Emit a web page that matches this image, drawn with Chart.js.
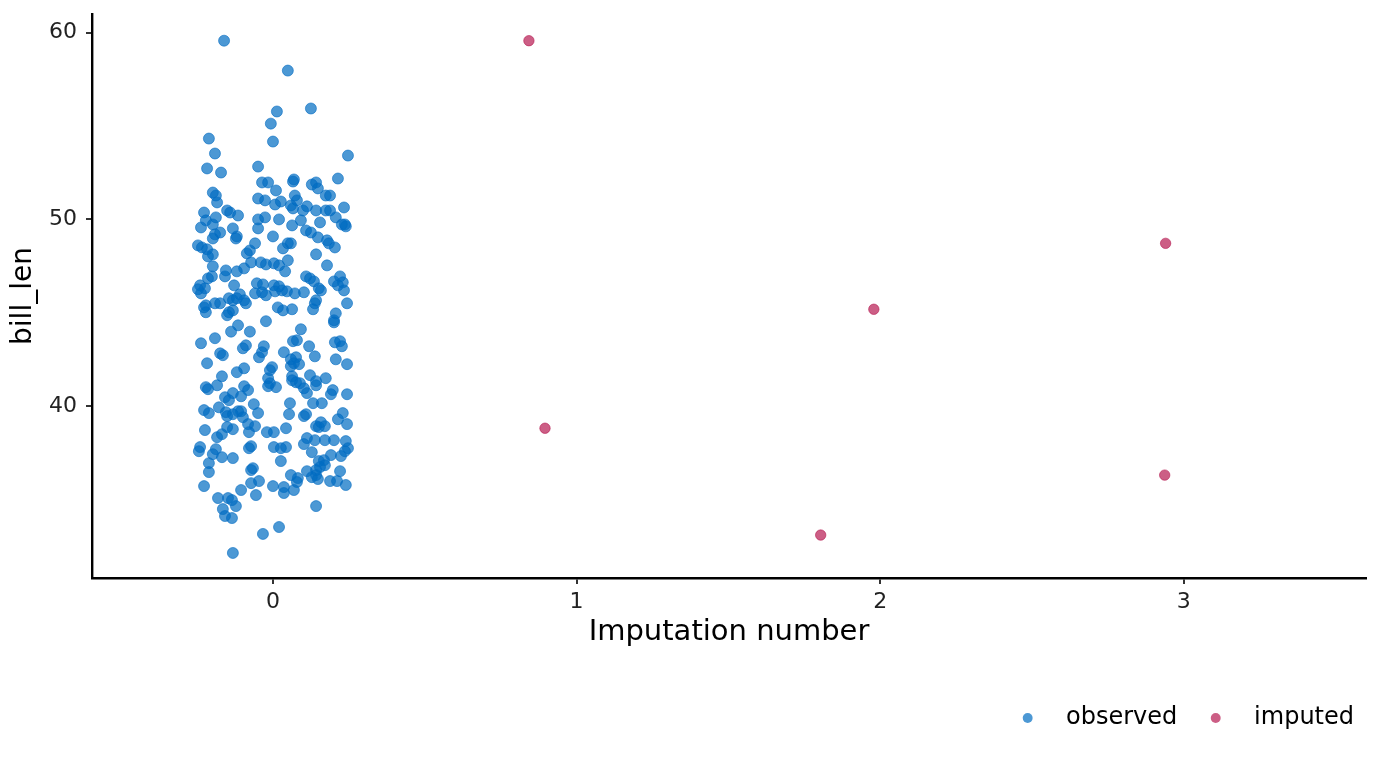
<!DOCTYPE html>
<html>
<head>
<meta charset="utf-8">
<script src="https://cdn.jsdelivr.net/npm/chart.js"></script>
<style>
  body { margin: 0; background: #fff; }
  #wrap { width: 1382px; height: 768px; position: relative; }
</style>
</head>
<body>
<div id="wrap"><canvas id="chart"></canvas></div>
<script>
// observed bill_len values, each with its horizontal jitter around imputation 0
const obsJitter = [
  -0.161, 0.049, 0.125, 0.013, -0.007, 0.000, -0.211, -0.191, 0.247, -0.217,
  -0.171, -0.049, 0.069, 0.066, 0.214, -0.036, -0.016, 0.142, 0.128, 0.148,
  0.010, -0.198, -0.188, 0.174, 0.188, -0.049, 0.072, 0.079, -0.184, -0.026,
  0.026, 0.007, 0.059, 0.112, 0.066, 0.099, -0.227, -0.151, -0.141, 0.142,
  0.188, 0.174, 0.234, -0.115, -0.188, -0.026, -0.049, 0.207, 0.020, -0.221,
  0.092, 0.155, -0.198, 0.227, 0.240, 0.237, 0.063, 0.109, 0.125, -0.132,
  -0.174, -0.049, -0.237, -0.191, -0.198, -0.119, -0.122, 0.000, 0.148, 0.178,
  -0.059, 0.049, 0.059, 0.184, -0.247, 0.204, -0.217, -0.076, -0.234, -0.198,
  -0.086, 0.033, 0.142, -0.214, -0.072, -0.040, -0.023, 0.003, 0.049, 0.020,
  -0.198, -0.095, 0.178, 0.040, -0.155, -0.119, -0.214, -0.201, -0.158, 0.109,
  0.122, 0.221, 0.135, 0.201, 0.230, 0.214, 0.234, -0.240, -0.224, -0.053,
  -0.033, -0.059, -0.036, -0.128, 0.003, 0.020, 0.030, 0.046, 0.072, 0.102,
  0.151, 0.158, 0.007, -0.023, -0.247, -0.237, -0.109, -0.191, -0.174, -0.145,
  -0.119, -0.095, -0.132, -0.221, -0.227, -0.089, 0.016, 0.033, 0.063, 0.142,
  0.138, 0.244, 0.132, -0.145, -0.132, -0.151, 0.207, 0.201, 0.201, -0.221,
  -0.023, -0.115, 0.092, -0.138, -0.076, -0.237, 0.066, 0.079, 0.119, -0.030,
  -0.089, -0.191, 0.204, 0.221, 0.227, -0.099, -0.165, -0.036, 0.036, -0.046,
  0.076, 0.138, -0.174, -0.217, 0.069, 0.059, 0.059, 0.086, 0.207, 0.244,
  -0.095, -0.119, -0.168, 0.063, 0.122, 0.174, -0.016, -0.010, -0.003, 0.063,
  -0.010, 0.010, -0.016, 0.076, 0.089, -0.221, -0.214, -0.184, -0.095, -0.082,
  -0.132, 0.102, 0.112, 0.142, 0.142, 0.197, 0.191, 0.244, 0.056, 0.132,
  0.161, -0.105, -0.158, -0.145, -0.178, -0.063, -0.049, -0.115, -0.105, -0.132,
  -0.211, -0.155, -0.099, -0.227, -0.151, 0.109, 0.102, 0.053, 0.230, 0.214,
  0.158, 0.151, 0.171, 0.142, 0.244, -0.151, -0.132, -0.224, -0.079, -0.059,
  -0.020, 0.003, 0.043, -0.082, -0.184, -0.168, 0.112, 0.138, 0.171, 0.201,
  0.240, 0.102, 0.003, 0.026, 0.043, -0.079, -0.072, -0.240, -0.188, -0.244,
  -0.198, 0.247, 0.237, 0.128, 0.191, 0.224, -0.168, -0.132, 0.168, 0.151,
  0.026, -0.211, -0.066, -0.072, 0.171, 0.155, 0.142, 0.221, 0.112, 0.142,
  0.128, 0.148, 0.059, 0.082, -0.211, -0.046, -0.072, 0.079, 0.188, 0.211,
  0.240, -0.227, 0.000, 0.036, 0.069, 0.036, -0.105, -0.056, -0.181, -0.148,
  -0.135, -0.165, -0.122, -0.158, -0.135, 0.142, 0.020, -0.033, -0.132
];
const obsBillLen = [
  59.57, 57.97, 55.94, 55.78, 55.13, 54.17, 54.33, 53.53, 53.42, 52.73,
  52.51, 52.83, 52.14, 52.03, 52.19, 51.98, 51.98, 51.98, 51.87, 51.66,
  51.55, 51.44, 51.28, 51.28, 51.28, 51.12, 51.28, 51.02, 50.91, 51.02,
  50.96, 50.80, 50.75, 50.70, 50.59, 50.48, 50.37, 50.48, 50.37, 50.48,
  50.48, 50.48, 50.64, 50.21, 50.11, 50.11, 50.00, 50.11, 50.00, 49.95,
  49.95, 49.84, 49.73, 49.73, 49.63, 49.73, 49.68, 49.41, 49.30, 49.52,
  49.30, 49.52, 49.57, 49.20, 48.98, 49.09, 48.98, 49.09, 49.04, 48.88,
  48.72, 48.72, 48.72, 48.72, 48.61, 48.50, 48.40, 48.34, 48.50, 48.13,
  48.18, 48.45, 48.13, 48.02, 47.70, 47.70, 47.59, 47.65, 47.81, 47.54,
  47.49, 47.38, 47.54, 47.22, 47.27, 47.22, 46.84, 46.95, 46.95, 46.95,
  46.84, 46.95, 46.68, 46.68, 46.63, 46.47, 46.20, 46.47, 46.31, 46.58,
  46.52, 46.04, 46.10, 46.47, 46.47, 46.42, 46.20, 46.15, 46.04, 46.10,
  46.31, 46.20, 46.15, 45.94, 46.26, 46.04, 45.99, 45.51, 45.51, 45.78,
  45.78, 45.67, 45.67, 45.40, 45.29, 45.51, 45.29, 45.13, 45.19, 45.67,
  45.51, 45.51, 45.19, 45.03, 45.13, 44.87, 44.97, 44.60, 44.49, 45.03,
  44.55, 44.33, 44.12, 43.99, 43.99, 43.37, 43.48, 43.53, 43.21, 43.21,
  43.26, 43.64, 43.42, 43.48, 43.21, 43.10, 42.73, 42.89, 42.89, 42.62,
  42.62, 42.67, 42.83, 42.30, 42.30, 42.14, 42.51, 42.25, 42.51, 42.25,
  42.03, 41.82, 41.60, 41.60, 41.66, 41.50, 41.50, 41.93, 42.09, 41.39,
  41.23, 41.02, 41.07, 41.28, 41.23, 41.02, 40.91, 41.12, 41.07, 40.86,
  40.70, 40.96, 40.70, 41.34, 41.12, 40.86, 40.64, 40.64, 40.16, 40.16,
  40.16, 40.53, 40.48, 40.32, 39.94, 40.11, 39.63, 39.73, 39.73, 39.57,
  39.63, 39.68, 39.41, 39.79, 39.47, 39.57, 39.47, 39.57, 39.63, 39.30,
  39.14, 38.88, 38.93, 38.93, 39.04, 38.88, 38.77, 38.72, 38.61, 38.93,
  38.61, 38.61, 38.82, 39.04, 38.34, 38.50, 38.29, 38.18, 38.18, 38.18,
  38.13, 37.97, 37.81, 37.75, 37.81, 37.75, 37.86, 37.81, 37.70, 37.59,
  37.43, 37.75, 37.59, 37.54, 37.38, 37.33, 37.27, 37.22, 37.11, 37.06,
  37.06, 36.95, 36.68, 36.58, 36.84, 36.74, 36.58, 36.52, 36.52, 36.31,
  36.20, 36.10, 36.31, 36.15, 36.47, 35.99, 35.88, 35.94, 35.99, 35.99,
  35.78, 35.72, 35.72, 35.67, 35.51, 35.35, 35.51, 35.24, 35.08, 35.08,
  34.97, 34.49, 34.65, 34.12, 34.01, 34.65, 33.53, 33.16, 32.14
];

// imputed values: imputation number, jitter, bill_len
const impNumber = [1, 1, 2, 2, 3, 3];
const impJitter = [-0.157, -0.104, -0.196, -0.021, -0.060, -0.063];
const impBillLen = [59.57, 38.82, 33.10, 45.19, 48.72, 36.31];

const xTicks = [0, 1, 2, 3];
const yTicks = [40, 50, 60];

const observedPoints = obsBillLen.map((v, i) => ({x: 0 + obsJitter[i], y: v}));
const imputedPoints = impBillLen.map((v, i) => ({x: impNumber[i] + impJitter[i], y: v}));

const FONT = 'DejaVu Sans';
const ink = '#222222';

const config = {
  type: 'scatter',
  data: {
    datasets: [{
      label: 'observed',
      data: observedPoints,
      backgroundColor: 'rgba(0, 108, 194, 0.7)',
      borderColor: 'rgba(0, 108, 194, 0.75)',
      borderWidth: 0.8,
      pointRadius: 5.5,
    }, {
      label: 'imputed',
      data: imputedPoints,
      backgroundColor: 'rgba(182, 26, 81, 0.7)',
      borderColor: 'rgba(182, 26, 81, 0.75)',
      borderWidth: 0.8,
      pointRadius: 5.2,
    }]
  },
  options: {
    responsive: true,
    maintainAspectRatio: false,
    animation: false,
    layout: {
      padding: {top: 14, right: 16, left: 0, bottom: 28}
    },
    scales: {
      x: {
        type: 'linear',
        min: -0.596,
        max: 3.6,
        afterBuildTicks: (scale) => { scale.ticks = xTicks.map(v => ({value: v})); },
        afterFit: (scale) => { scale.height = 116; scale.paddingLeft = 0; scale.paddingRight = 0; },
        border: {display: true, color: '#000', width: 2.4},
        grid: {drawOnChartArea: false, drawTicks: true, tickLength: 6, color: '#333', lineWidth: 2},
        ticks: {color: ink, font: {family: FONT, size: 22}, padding: 5, maxRotation: 0},
        title: {
          display: true,
          text: 'Imputation number',
          color: '#000',
          font: {family: FONT, size: 29},
          padding: {top: 0, bottom: 44}
        }
      },
      y: {
        type: 'linear',
        min: 30.8,
        max: 61,
        afterBuildTicks: (scale) => { scale.ticks = yTicks.map(v => ({value: v})); },
        afterFit: (scale) => { scale.width = 92; scale.paddingTop = 0; scale.paddingBottom = 0; },
        border: {display: true, color: '#000', width: 2.4},
        grid: {drawOnChartArea: false, drawTicks: true, tickLength: 6, color: '#333', lineWidth: 2},
        ticks: {color: ink, font: {family: FONT, size: 22}, padding: 9},
        title: {
          display: true,
          text: 'bill_len',
          color: '#000',
          font: {family: FONT, size: 28},
          padding: {top: 7, bottom: 0}
        }
      }
    },
    plugins: {
      tooltip: {enabled: false},
      legend: {
        position: 'bottom',
        align: 'end',
        labels: {
          usePointStyle: true,
          pointStyle: 'circle',
          boxWidth: 7,
          boxHeight: 7,
          padding: 12,
          color: '#000',
          font: {family: FONT, size: 24},
          generateLabels: (chart) => {
            const items = Chart.defaults.plugins.legend.labels.generateLabels(chart);
            return items.map((it, i) => {
              it.text = '   ' + it.text + (i === 0 ? '   ' : '');
              it.lineWidth = 0;
              return it;
            });
          }
        }
      }
    }
  }
};

new Chart(document.getElementById('chart'), config);
</script>
</body>
</html>
